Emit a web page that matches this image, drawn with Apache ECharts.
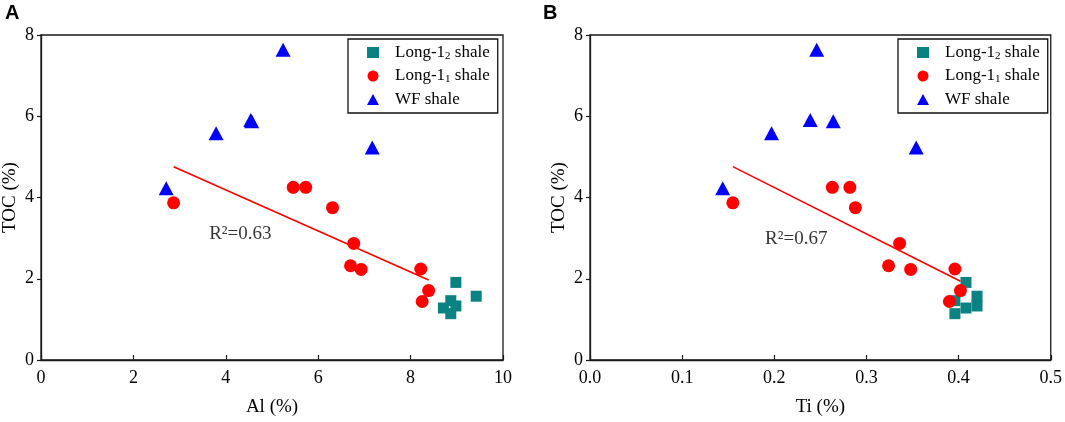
<!DOCTYPE html>
<html>
<head>
<meta charset="utf-8">
<script src="https://cdn.jsdelivr.net/npm/echarts@6/dist/echarts.min.js"></script>
<style>
html,body{margin:0;padding:0;background:#fff;}
#c{width:1065px;height:422px;}
</style>
</head>
<body>
<div id="c"></div>
<script>
// ---- Data ----
const seriesNames = ['Long-1\u2082 shale', 'Long-1\u2081 shale', 'WF shale'];

// Long-1_2 shale
const alL12  = [8.98, 9.42, 8.87, 8.71, 8.98, 8.87];
const tiL12  = [0.408, 0.420, 0.396, 0.408, 0.420, 0.396];
const tocL12 = [1.91, 1.57, 1.46, 1.28, 1.33, 1.14];

// Long-1_1 shale
const alL11  = [2.87, 5.46, 5.73, 6.31, 6.77, 6.70, 6.93, 8.22, 8.39, 8.25];
const tiL11  = [0.155, 0.263, 0.282, 0.288, 0.336, 0.324, 0.348, 0.396, 0.402, 0.390];
const tocL11 = [3.87, 4.25, 4.25, 3.75, 2.87, 2.32, 2.23, 2.24, 1.71, 1.44];

// WF shale
const alWF  = [2.71, 3.79, 4.54, 4.56, 5.24, 7.17];
const tiWF  = [0.144, 0.197, 0.239, 0.264, 0.246, 0.354];
const tocWF = [4.23, 5.58, 5.91, 5.88, 7.64, 5.23];

// Axis ticks [min, max, interval]
const xTicksA = [0, 10, 2];
const xTicksB = [0, 0.5, 0.1];
const yTicks  = [0, 8, 2];

// Annotations
const r2A = {x: 3.64, y: 3.09, text: 'R\u00b2=0.63'};
const r2B = {x: 0.190, y: 2.99, text: 'R\u00b2=0.67'};

// ---- helpers ----
const zip = (xs, ys) => xs.map((x, i) => [x, ys[i]]);
function fitLine(xs, ys) {
  const n = xs.length;
  const mx = xs.reduce((a, b) => a + b, 0) / n;
  const my = ys.reduce((a, b) => a + b, 0) / n;
  let sxy = 0, sxx = 0;
  for (let i = 0; i < n; i++) { sxy += (xs[i] - mx) * (ys[i] - my); sxx += (xs[i] - mx) ** 2; }
  const b = sxy / sxx, a = my - b * mx;
  const x0 = Math.min(...xs), x1 = Math.max(...xs);
  return [[x0, a + b * x0], [x1, a + b * x1]];
}

const SERIF = "'Liberation Serif','Times New Roman',serif";
const TEAL = '#0b8282', RED = '#ff0000', BLUE = '#0000ff';
const AXC = '#1a1a1a';

function xAxisCfg(idx, ticks, name, fmt) {
  return {
    gridIndex: idx, type: 'value', min: ticks[0], max: ticks[1], interval: ticks[2],
    name: name, nameLocation: 'middle', nameGap: 38,
    nameTextStyle: {fontFamily: SERIF, fontSize: 19, color: '#000'},
    axisLine: {show: true, onZero: false, lineStyle: {color: AXC, width: 1.3}},
    axisTick: {show: true, inside: true, length: 5, lineStyle: {color: AXC, width: 1.2}},
    axisLabel: {fontFamily: SERIF, fontSize: 18, color: '#000', margin: 9, formatter: fmt},
    splitLine: {show: false}
  };
}
function yAxisCfg(idx) {
  return {
    gridIndex: idx, type: 'value', min: yTicks[0], max: yTicks[1], interval: yTicks[2],
    name: 'TOC (%)', nameLocation: 'middle', nameGap: 21,
    nameTextStyle: {fontFamily: SERIF, fontSize: 19, color: '#000'},
    axisLine: {show: true, onZero: false, lineStyle: {color: AXC, width: 1.3}},
    axisTick: {show: true, inside: false, length: 4, lineStyle: {color: AXC, width: 1.2}},
    axisLabel: {fontFamily: SERIF, fontSize: 18, color: '#000', margin: 7},
    splitLine: {show: false}
  };
}
function legendCfg(left) {
  return {
    data: seriesNames, orient: 'vertical', left: left, top: 39,
    itemWidth: 12, itemHeight: 11, itemGap: 6,
    padding: [5, 8, 5, 19],
    borderColor: '#111', borderWidth: 1.3, backgroundColor: '#fff',
    textStyle: {fontFamily: SERIF, fontSize: 17, color: '#000',
      rich: {
        f: {fontFamily: SERIF, fontSize: 17, color: '#000', lineHeight: 18, verticalAlign: 'middle', padding: [0, 0, 0, 11]},
        a: {fontFamily: SERIF, fontSize: 17, color: '#000', lineHeight: 18, verticalAlign: 'middle'},
        s: {fontFamily: SERIF, fontSize: 11, color: '#000', lineHeight: 10, verticalAlign: 'bottom'}
      }},
    formatter: function (nm) {
      if (nm.indexOf('\u2082') >= 0) return '{f|Long-1}{s|2}{a| shale}';
      if (nm.indexOf('\u2081') >= 0) return '{f|Long-1}{s|1}{a| shale}';
      return '{f|' + nm + '}';
    }
  };
}
function scatterSet(idx, xL12, xL11, xWF, r2) {
  return [
    {name: seriesNames[0], type: 'scatter', xAxisIndex: idx, yAxisIndex: idx,
     symbol: 'rect', symbolSize: 11, itemStyle: {color: TEAL, opacity: 1}, data: zip(xL12, tocL12), z: 3},
    {name: seriesNames[1], type: 'scatter', xAxisIndex: idx, yAxisIndex: idx,
     symbol: 'circle', symbolSize: 13, itemStyle: {color: RED, opacity: 1}, data: zip(xL11, tocL11), z: 4},
    {name: seriesNames[2], type: 'scatter', xAxisIndex: idx, yAxisIndex: idx,
     symbol: 'triangle', symbolSize: [15, 14], itemStyle: {color: BLUE, opacity: 1}, data: zip(xWF, tocWF), z: 5},
    {name: 'fit' + idx, type: 'line', xAxisIndex: idx, yAxisIndex: idx,
     data: fitLine(xL11, tocL11), showSymbol: false, symbol: 'none',
     lineStyle: {color: RED, width: 1.6}, z: 6, silent: true},
    {name: 'r2' + idx, type: 'scatter', xAxisIndex: idx, yAxisIndex: idx,
     symbolSize: 0, data: [[r2.x, r2.y]], silent: true, z: 7,
     label: {show: true, position: 'right', distance: 0, formatter: r2.text,
             fontFamily: SERIF, fontSize: 19, color: '#000'}}
  ];
}

const chart = echarts.init(document.getElementById('c'), null, {renderer: 'canvas'});
chart.setOption({
  animation: false,
  backgroundColor: '#fff',
  grid: [
    {left: 39, top: 35, width: 464, height: 330, show: true, borderColor: AXC, borderWidth: 1.3, backgroundColor: 'transparent'},
    {left: 590, top: 35, width: 463, height: 330, show: true, borderColor: AXC, borderWidth: 1.3, backgroundColor: 'transparent'}
  ],
  xAxis: [
    xAxisCfg(0, xTicksA, 'Al (%)', v => String(v)),
    xAxisCfg(1, xTicksB, 'Ti (%)', v => v.toFixed(1))
  ],
  yAxis: [yAxisCfg(0), yAxisCfg(1)],
  legend: [legendCfg(348), legendCfg(898)],
  graphic: [
    {type: 'text', left: 5, top: 3, style: {text: 'A', font: "bold 20px 'Liberation Sans', Arial, sans-serif", fill: '#000'}},
    {type: 'text', left: 543, top: 3, style: {text: 'B', font: "bold 20px 'Liberation Sans', Arial, sans-serif", fill: '#000'}}
  ],
  series: [].concat(
    scatterSet(0, alL12, alL11, alWF, r2A),
    scatterSet(1, tiL12, tiL11, tiWF, r2B)
  )
});
</script>
</body>
</html>
